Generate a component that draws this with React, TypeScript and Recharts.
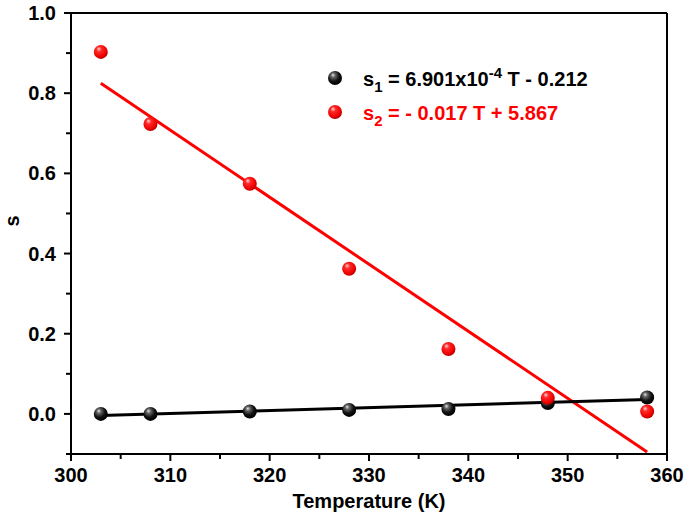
import { ComposedChart, Line, Scatter, XAxis, YAxis, ReferenceLine } from 'recharts'

const temperature = [303, 308, 318, 328, 338, 348, 358]
const s1Values = [0.0, 0.0, 0.006, 0.01, 0.012, 0.027, 0.041]
const s2Values = [0.903, 0.723, 0.574, 0.362, 0.162, 0.04, 0.006]

// fitted lines, end points
const fitT = [303, 358]
const s1Fit = [-0.004, 0.036]
const s2Fit = [0.825, -0.095]

const xTicks = [300, 305, 310, 315, 320, 325, 330, 335, 340, 345, 350, 355, 360]
const yTicks = [-0.1, 0, 0.1, 0.2, 0.3, 0.4, 0.5, 0.6, 0.7, 0.8, 0.9, 1.0]

const s1Data = temperature.map((t, i) => ({ x: t, y: s1Values[i] }))
const s2Data = temperature.map((t, i) => ({ x: t, y: s2Values[i] }))
const s1FitData = fitT.map((t, i) => ({ x: t, y: s1Fit[i] }))
const s2FitData = fitT.map((t, i) => ({ x: t, y: s2Fit[i] }))

const W = 685
const H = 520
const X_AXIS_H = 66
const Y_AXIS_W = 71
const AXIS_Y = H - X_AXIS_H
const AXIS_X = Y_AXIS_W

const font = '"Liberation Sans", Arial, sans-serif'

const XTick = (props: any) => {
  const { payload } = props
  const x = payload.coordinate
  const major = Math.round(payload.value) % 10 === 0
  return (
    <g>
      <line x1={x} y1={AXIS_Y} x2={x} y2={AXIS_Y + (major ? 7 : 5)} stroke="#000" strokeWidth={2} />
      {major && (
        <text x={x} y={AXIS_Y + 28} textAnchor="middle" fontFamily={font} fontWeight="bold" fontSize={20} fill="#000">
          {payload.value}
        </text>
      )}
    </g>
  )
}

const YTick = (props: any) => {
  const { payload } = props
  const y = payload.coordinate
  const k = Math.round(payload.value * 10)
  const major = k % 2 === 0
  return (
    <g>
      <line x1={AXIS_X} y1={y} x2={AXIS_X - (major ? 7 : 5)} y2={y} stroke="#000" strokeWidth={2} />
      {major && k >= 0 && (
        <text x={AXIS_X - 15} y={y + 7} textAnchor="end" fontFamily={font} fontWeight="bold" fontSize={20} fill="#000">
          {payload.value.toFixed(1)}
        </text>
      )}
    </g>
  )
}

const Sphere = (color: string) => (props: any) => (
  <circle cx={props.cx} cy={props.cy} r={7} fill={`url(#sph-${color})`} />
)

const Gradients = () => (
  <defs>
    <radialGradient id="sph-red" cx="0.42" cy="0.38" r="0.62" fx="0.35" fy="0.28">
      <stop offset="0" stopColor="#ffd6d6" />
      <stop offset="0.3" stopColor="#ff2a2a" />
      <stop offset="0.8" stopColor="#ee0000" />
      <stop offset="1" stopColor="#b00000" />
    </radialGradient>
    <radialGradient id="sph-black" cx="0.42" cy="0.38" r="0.62" fx="0.35" fy="0.28">
      <stop offset="0" stopColor="#e6e6e6" />
      <stop offset="0.25" stopColor="#666" />
      <stop offset="0.65" stopColor="#111" />
      <stop offset="1" stopColor="#000" />
    </radialGradient>
  </defs>
)

const App = () => {
  return (
    <div style={{ position: 'absolute', left: 0, top: 0, width: W, height: H, background: '#fff' }}>
      <ComposedChart width={W} height={H} margin={{ top: 13, right: 18, left: 0, bottom: 0 }}>
        <Gradients />
        <XAxis
          dataKey="x"
          type="number"
          domain={[300, 360]}
          ticks={xTicks}
          allowDataOverflow
          height={X_AXIS_H}
          tickSize={0}
          tickMargin={0}
          tickLine={false}
          tick={<XTick />}
          axisLine={{ stroke: '#000', strokeWidth: 2 }}
          label={{ value: 'Temperature (K)', position: 'insideBottom', offset: 12, fontFamily: font, fontWeight: 'bold', fontSize: 20, fill: '#000' }}
        />
        <YAxis
          type="number"
          domain={[-0.1, 1.0]}
          ticks={yTicks}
          allowDataOverflow
          width={Y_AXIS_W}
          tickSize={0}
          tickMargin={0}
          tickLine={false}
          tick={<YTick />}
          axisLine={{ stroke: '#000', strokeWidth: 2 }}
        />
        <ReferenceLine y={1.0} stroke="#000" strokeWidth={2} />
        <ReferenceLine x={360} stroke="#000" strokeWidth={2} />
        <Line data={s2FitData} dataKey="y" stroke="#ff0000" strokeWidth={3} dot={false} isAnimationActive={false} />
        <Line data={s1FitData} dataKey="y" stroke="#000" strokeWidth={3} dot={false} isAnimationActive={false} />
        <Scatter data={s1Data} dataKey="y" shape={Sphere('black')} isAnimationActive={false} />
        <Scatter data={s2Data} dataKey="y" shape={Sphere('red')} isAnimationActive={false} />
      </ComposedChart>
      <svg width={W} height={H} style={{ position: 'absolute', left: 0, top: 0, pointerEvents: 'none' }}>
        <Gradients />
        {/* y axis title */}
        <text transform="translate(19,221) rotate(-90)" textAnchor="middle" fontFamily={font} fontWeight="bold" fontSize={20} fill="#000">
          s
        </text>
        {/* legend */}
        <circle cx={335} cy={78} r={7} fill="url(#sph-black)" />
        <text x={363} y={86} fontFamily={font} fontWeight="bold" fontSize={20} fill="#000">
          s<tspan dy={6} fontSize={15}>1</tspan>
          <tspan dy={-6}> = 6.901x10</tspan>
          <tspan dy={-8} fontSize={15}>-4</tspan>
          <tspan dy={8}> T - 0.212</tspan>
        </text>
        <circle cx={335} cy={112} r={7} fill="url(#sph-red)" />
        <text x={363} y={120} fontFamily={font} fontWeight="bold" fontSize={20} fill="#ff0000">
          s<tspan dy={6} fontSize={15}>2</tspan>
          <tspan dy={-6}> = - 0.017 T + 5.867</tspan>
        </text>
      </svg>
    </div>
  )
}

export default App
